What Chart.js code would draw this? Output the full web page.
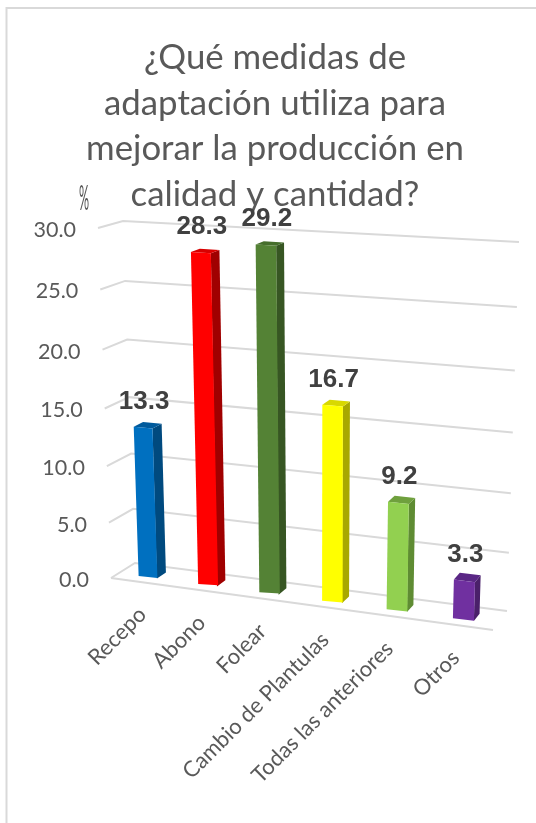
<!DOCTYPE html>
<html><head><meta charset="utf-8">
<style>html,body{margin:0;padding:0;background:#fff}#w{position:absolute;left:0;top:0;width:536px;height:823px}</style>
<script src="https://cdn.jsdelivr.net/npm/chart.js@4"></script>
</head><body><div id="w"><canvas id="c" width="536" height="823"></canvas></div>
<script>
const titleLines = ['¿Qué medidas de','adaptación utiliza para','mejorar la producción en','calidad y cantidad?'];
const categories = ['Recepo','Abono','Folear','Cambio de Plantulas','Todas las anteriores','Otros'];
const values = [13.3,28.3,29.2,16.7,9.2,3.3];
const frontColors = ['#0070C0','#FF0000','#548235','#FFFF00','#92D050','#7030A0'];
const sideColors = ['#004A7F','#A00000','#375623','#A8A800','#5F8C33','#4A206A'];
const capColors = ['#005A9C','#D80000','#466E2C','#D8D800','#6FA03D','#5A2785'];
const axisTitle = '%';
const GRID='#D9D9D9', TEXT='#595959', LABEL='#404040';

function squareToQuad(q){
  const [[x0,y0],[x1,y1],[x2,y2],[x3,y3]]=q;
  const dx1=x1-x2,dx2=x3-x2,sx=x0-x1+x2-x3,dy1=y1-y2,dy2=y3-y2,sy=y0-y1+y2-y3;
  const den=dx1*dy2-dx2*dy1, g=(sx*dy2-dx2*sy)/den, h=(dx1*sy-sx*dy1)/den;
  const a=x1-x0+g*x1,b=x3-x0+h*x3,d=y1-y0+g*y1,e=y3-y0+h*y3;
  return (u,v)=>{const w=g*u+h*v+1;return [(a*u+b*v+x0)/w,(d*u+e*v+y0)/w];};
}
const backWall=squareToQuad([[135,563],[507,611],[519,242],[123,221]]);
const frontWall=squareToQuad([[111,578],[493,630],[506,252],[98,228]]);
const P=(u,v,d)=>{const b=backWall(u,v),f=frontWall(u,v);return [b[0]+(f[0]-b[0])*d,b[1]+(f[1]-b[1])*d];};
const DF=0.69, DB=0.30;

function poly(ctx,pts,fill){ctx.beginPath();pts.forEach((p,i)=>i?ctx.lineTo(p[0],p[1]):ctx.moveTo(p[0],p[1]));ctx.closePath();ctx.fillStyle=fill;ctx.fill();}
function line(ctx,pts){ctx.beginPath();pts.forEach((p,i)=>i?ctx.lineTo(p[0],p[1]):ctx.moveTo(p[0],p[1]));ctx.stroke();}

const perspective={
  id:'perspective',
  beforeDatasetsDraw(chart){
    const ctx=chart.ctx,a=chart.chartArea,ys=chart.scales.y,xs=chart.scales.x;
    const U=x=>(x-a.left)/(a.right-a.left), V=y=>(a.bottom-y)/(a.bottom-a.top);
    ctx.save();
    // frame
    ctx.strokeStyle=GRID;ctx.lineWidth=2;
    line(ctx,[[6.5,823],[6.5,8],[536,8]]);
    // walls
    ctx.lineWidth=2;
    ys.ticks.forEach((t,i)=>{
      const v=V(ys.getPixelForTick(i));
      line(ctx,[P(0,v,1),P(0,v,0),P(1,v,0)]);
    });
    line(ctx,[P(0,0,1),P(1,0,1)]);
    // y tick labels
    ctx.fillStyle=TEXT;ctx.font='21.5px Lato';ctx.textAlign='right';ctx.textBaseline='middle';
    ys.ticks.forEach((t,i)=>{
      const p=P(0,V(ys.getPixelForTick(i)),1);
      ctx.fillText(t.label,p[0]-22,p[1]+2);
    });
    // axis title
    ctx.save();ctx.translate(84,199);ctx.scale(0.7,1.95);ctx.font='18px Lato';ctx.textAlign='center';ctx.fillText(axisTitle,0,0);ctx.restore();
    // x tick labels
    ctx.font='22px Lato';
    xs.ticks.forEach((t,i)=>{
      const u=U(xs.getPixelForTick(i));
      const p=P(u,0,1);
      ctx.save();ctx.translate(p[0]+2.5-6*u,p[1]+29);ctx.rotate(-Math.PI/4);
      ctx.fillText(categories[i],0,0);ctx.restore();
    });
    // bars
    const meta=chart.getDatasetMeta(0);
    meta.data.forEach((el,i)=>{
      const hw=el.width/2,ul=U(el.x-hw),ur=U(el.x+hw),vt=V(el.y),vb=V(el.base);
      poly(ctx,[P(ur,vt,DF),P(ur,vt,DB),P(ur,vb,DB),P(ur,vb,DF)],sideColors[i]);
      poly(ctx,[P(ul,vt,DF),P(ul,vt,DB),P(ur,vt,DB),P(ur,vt,DF)],capColors[i]);
      const A=P(ul,vt,DF),B=P(ur,vt,DF),C=P(ul,vb,DF);
      const w=el.width,h=el.base-el.y;
      const m11=(B[0]-A[0])/w,m12=(B[1]-A[1])/w,m21=(C[0]-A[0])/h,m22=(C[1]-A[1])/h;
      const x0=el.x-hw;
      ctx.save();
      ctx.transform(m11,m12,m21,m22,A[0]-m11*x0-m21*el.y,A[1]-m12*x0-m22*el.y);
      el.draw(ctx,chart.chartArea);
      ctx.restore();
    });
    // data labels
    ctx.fillStyle=LABEL;ctx.font='bold 26px "Liberation Sans"';ctx.textAlign='center';ctx.textBaseline='middle';
    meta.data.forEach((el,i)=>{
      const p=P(U(el.x),V(el.y),DF);
      ctx.fillText(values[i].toFixed(1),p[0]+1,p[1]-26);
    });
    ctx.restore();
    return false;
  }
};

new Chart(document.getElementById('c'),{
  type:'bar',
  data:{labels:categories,datasets:[{data:values,backgroundColor:frontColors,borderWidth:0,categoryPercentage:1,barPercentage:0.31}]},
  options:{
    responsive:false,animation:false,
    layout:{padding:{left:14,right:0,top:0,bottom:245}},
    plugins:{
      legend:{display:false},tooltip:{enabled:false},
      title:{display:true,text:titleLines,color:TEXT,font:{family:'Lato',size:34.8,weight:'normal',lineHeight:1.31},padding:{top:35,bottom:0}}
    },
    scales:{
      x:{grid:{display:false},border:{display:false},ticks:{display:false}},
      y:{min:0,max:30,grid:{display:false},border:{display:false},ticks:{display:false,stepSize:5,callback:v=>v.toFixed(1)}}
    }
  },
  plugins:[perspective]
});
</script></body></html>
